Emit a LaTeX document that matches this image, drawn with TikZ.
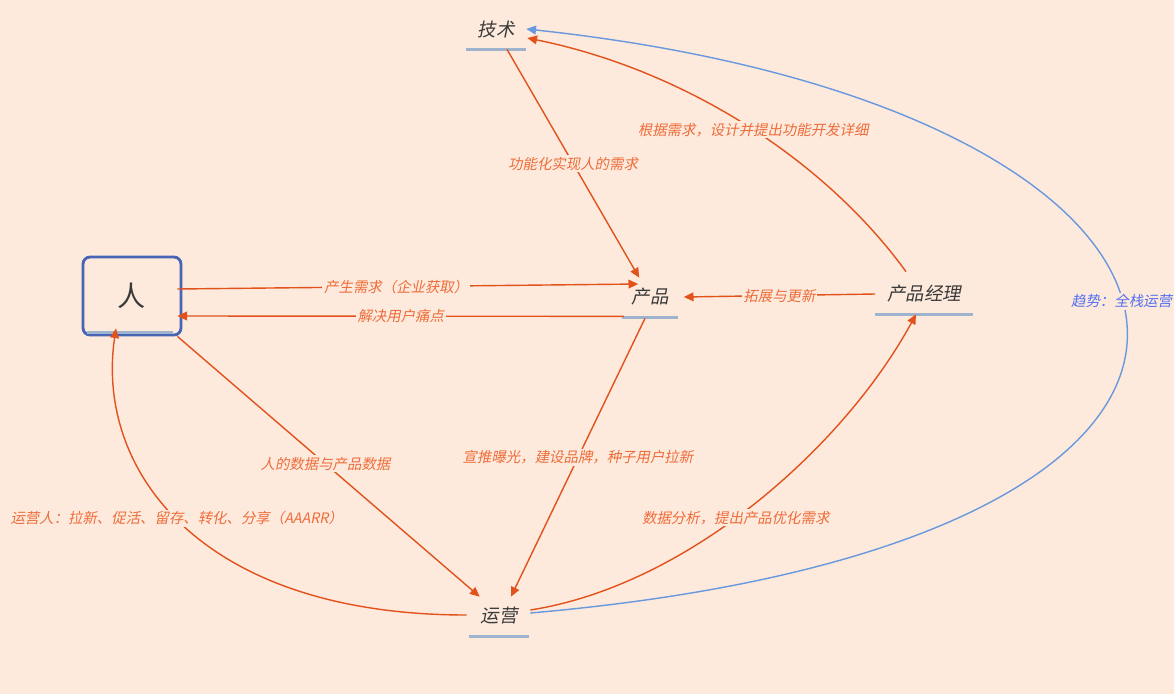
\documentclass[tikz,border=0pt]{standalone}
\usepackage{fontspec}
\newfontfamily\cjk[FakeSlant=0.2]{Noto Sans CJK SC}
\newfontfamily\cjkdroit{Noto Sans CJK SC}
\usetikzlibrary{arrows.meta,calc}
\definecolor{fond}{RGB}{253,234,220}
\definecolor{rouille}{RGB}{226,82,28}
\definecolor{rouilleclair}{RGB}{238,108,58}
\definecolor{bleuligne}{RGB}{104,152,222}
\definecolor{bleutexte}{RGB}{84,112,240}
\definecolor{bleucadre}{RGB}{72,100,180}
\definecolor{souligne}{RGB}{158,180,206}
\definecolor{texte}{RGB}{58,58,58}
\begin{document}
\begin{tikzpicture}[x=0.02cm,y=-0.02cm,
  sujet/.style={minimum height=0.8cm, inner sep=0pt, text=texte, font=\cjk\fontsize{10.5}{12}\selectfont},
  fleche/.style={draw=rouille, line width=0.8pt, -{Triangle[length=5.5pt,width=5pt]}},
  etiq/.style={fill=fond, inner sep=1pt, text=rouilleclair, font=\cjk\fontsize{8.2}{10}\selectfont}]
% Fond
\fill[fond] (0,0) rectangle (1174,694);
\useasboundingbox (0,0) rectangle (1174,694);
% Noeuds
\node[draw=bleucadre, line width=1.6pt, rounded corners=4pt, minimum width=1.96cm, minimum height=1.56cm,
  text=texte, font=\cjkdroit\fontsize{16}{18}\selectfont] (ren) at (132,296) {人};
\draw[souligne, line width=1.6pt] ($(ren.south west)+(5,-4)$) -- ($(ren.south east)+(-9,-4)$);
\node[sujet, minimum width=1.2cm] (jishu) at (496,29) {技术};
\node[sujet, minimum width=1.1cm] (chanpin) at (650,297) {产品};
\node[sujet, minimum width=1.94cm] (jingli) at (924,294) {产品经理};
\node[sujet, minimum width=1.2cm] (yunying) at (499,616) {运营};
\foreach \n in {jishu,chanpin,jingli,yunying}
  \draw[souligne, line width=1.4pt] (\n.south west) -- (\n.south east);
% Liens droits
\draw[fleche] ($(ren.east)+(-5,-7)$) -- ($(chanpin.west)+(16,-13)$)
  node[etiq, pos=0.475] {产生需求（企业获取）};
\draw[fleche] ($(chanpin.south west)+(2,-1)$) -- ($(ren.east)+(-5,20)$)
  node[etiq, pos=0.5] {解决用户痛点};
\draw[fleche] ($(jishu.south)+(11,0)$) -- ($(chanpin.north west)+(17,1)$)
  node[etiq, pos=0.5] {功能化实现人的需求};
\draw[fleche] (jingli.west) -- ($(chanpin.east)+(6,0)$)
  node[etiq, pos=0.5] {拓展与更新};
\draw[fleche] ($(chanpin.south)+(-5,1)$) -- ($(yunying.north)+(12,1)$)
  node[etiq, pos=0.5] {宣推曝光，建设品牌，种子用户拉新};
\draw[fleche] ($(ren.south east)+(-5,0)$) -- ($(yunying.north west)+(11,1)$)
  node[etiq, pos=0.49] {人的数据与产品数据};
% Liens courbes
\draw[fleche] ($(jingli.north)+(-18,-2)$) .. controls (825,160) and (685,70) .. ($(jishu.east)+(1,9)$)
  node[etiq, pos=0.48] {根据需求，设计并提出功能开发详细};
\draw[fleche] ($(yunying.west)+(-2,-1)$) .. controls (200,615) and (95,470) .. ($(ren.south)+(-16,-8)$)
  node[etiq, pos=0.52] {运营人：拉新、促活、留存、转化、分享（AAARR）};
\draw[fleche] ($(yunying.east)+(1,-6)$) .. controls (690,585) and (845,445) .. ($(jingli.south)+(-8,0)$)
  node[etiq, pos=0.45] {数据分析，提出产品优化需求};
\draw[fleche, draw=bleuligne] ($(yunying.east)+(1,-3)$) .. controls (1370,540) and (1280,110) .. (jishu.east)
  node[etiq, pos=0.53, text=bleutexte] {趋势：全栈运营};
\end{tikzpicture}
\end{document}
